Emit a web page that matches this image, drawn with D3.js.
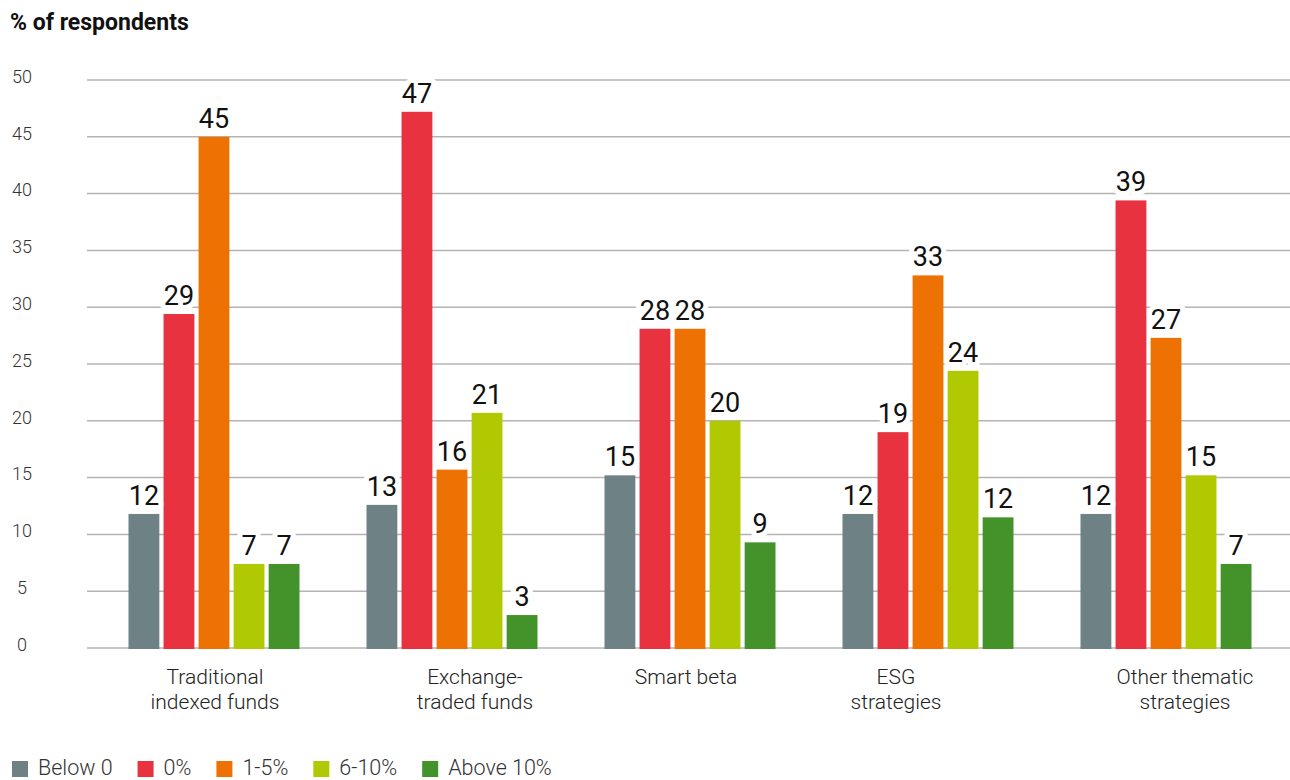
<!DOCTYPE html>
<html>
<head>
<meta charset="utf-8">
<script src="https://cdn.jsdelivr.net/npm/d3@7"></script>
<style>
  html, body { margin: 0; padding: 0; background: #fff; }
  svg { display: block; font-family: Roboto, "Liberation Sans", sans-serif; }
</style>
</head>
<body>
<svg id="chart" width="1290" height="780"></svg>
<script>
// ---- data ----
const categories = [
  ["Traditional", "indexed funds"],
  ["Exchange-", "traded funds"],
  ["Smart beta"],
  ["ESG", "strategies"],
  ["Other thematic", "strategies"]
];
const seriesNames = ["Below 0", "0%", "1-5%", "6-10%", "Above 10%"];
const below0   = [11.8, 12.6, 15.2, 11.8, 11.8];
const zero     = [29.4, 47.2, 28.1, 19.0, 39.4];
const oneFive  = [45.0, 15.7, 28.1, 32.8, 27.3];
const sixTen   = [7.4, 20.7, 20.0, 24.4, 15.2];
const above10  = [7.4, 2.9, 9.3, 11.5, 7.4];
const yTicks   = [0, 5, 10, 15, 20, 25, 30, 35, 40, 45, 50];
const yTitle   = "% of respondents";

// ---- style ----
const colors = ["#6e8285", "#e8323f", "#ee7203", "#b1c902", "#44932a"];
const labelNudge = [1, 23, -4, -32, 19]; // horizontal nudge of category labels

const series = [below0, zero, oneFive, sixTen, above10];
const catIdx = categories.map((d, i) => i);

const svg = d3.select("#chart");
const x0 = d3.scaleBand().domain(catIdx).range([95, 1285]).padding(0);
const groupW = 171;
const x1 = d3.scaleBand().domain(d3.range(seriesNames.length))
  .range([(x0.bandwidth() - groupW) / 2, (x0.bandwidth() + groupW) / 2])
  .paddingInner(0.12);
const y = d3.scaleLinear().domain([0, 50]).range([648, 80]);

// title
svg.append("text").attr("x", 10).attr("y", 30)
  .attr("font-size", 23).attr("font-weight", 700).attr("fill", "#111")
  .text(yTitle);

// grid
const grid = svg.append("g");
grid.selectAll("line").data(yTicks).join("line")
  .attr("x1", 87).attr("x2", 1290)
  .attr("y1", d => y(d)).attr("y2", d => y(d))
  .attr("stroke", "#b4b4b4").attr("stroke-width", 1.5);

// y tick labels
svg.append("g").selectAll("text").data(yTicks).join("text")
  .attr("x", 22).attr("y", d => y(d) - 2)
  .attr("text-anchor", "middle").attr("dominant-baseline", "middle")
  .attr("font-size", 18).attr("font-weight", 300).attr("fill", "#333")
  .text(d => d);

// bars
const groups = svg.append("g").selectAll("g").data(catIdx).join("g")
  .attr("transform", i => `translate(${x0(i)},0)`);

groups.selectAll("rect")
  .data(i => series.map((s, k) => ({k, v: s[i]})))
  .join("rect")
  .attr("x", d => x1(d.k))
  .attr("width", x1.bandwidth())
  .attr("y", d => y(d.v))
  .attr("height", d => y(0) - y(d.v) + 1)
  .attr("fill", d => colors[d.k]);

groups.selectAll("text.val")
  .data(i => series.map((s, k) => ({k, v: s[i]})))
  .join("text").attr("class", "val")
  .attr("x", d => x1(d.k) + x1.bandwidth() / 2)
  .attr("y", d => y(d.v) - 9)
  .attr("text-anchor", "middle")
  .attr("font-size", 27).attr("fill", "#111")
  .attr("stroke", "#fff").attr("stroke-width", 10).attr("paint-order", "stroke")
  .attr("stroke-linejoin", "round")
  .text(d => Math.round(d.v));

// category labels
const cat = svg.append("g").selectAll("text").data(catIdx).join("text")
  .attr("x", i => x0(i) + x0.bandwidth() / 2 + labelNudge[i])
  .attr("y", 684)
  .attr("text-anchor", "middle")
  .attr("font-size", 21).attr("font-weight", 300).attr("fill", "#222");
cat.selectAll("tspan").data(i => categories[i]).join("tspan")
  .attr("x", function() { return d3.select(this.parentNode).attr("x"); })
  .attr("dy", (d, j) => j === 0 ? 0 : 25)
  .text(d => d);

// legend
const leg = svg.append("g");
let lx = 12;
seriesNames.forEach((name, k) => {
  leg.append("rect").attr("x", lx).attr("y", 761).attr("width", 16).attr("height", 16)
    .attr("fill", colors[k]);
  const t = leg.append("text").attr("x", lx + 26).attr("y", 775)
    .attr("font-size", 21.5).attr("font-weight", 300).attr("fill", "#333")
    .text(name);
  lx += 26 + t.node().getComputedTextLength() + 25;
});
</script>
</body>
</html>
